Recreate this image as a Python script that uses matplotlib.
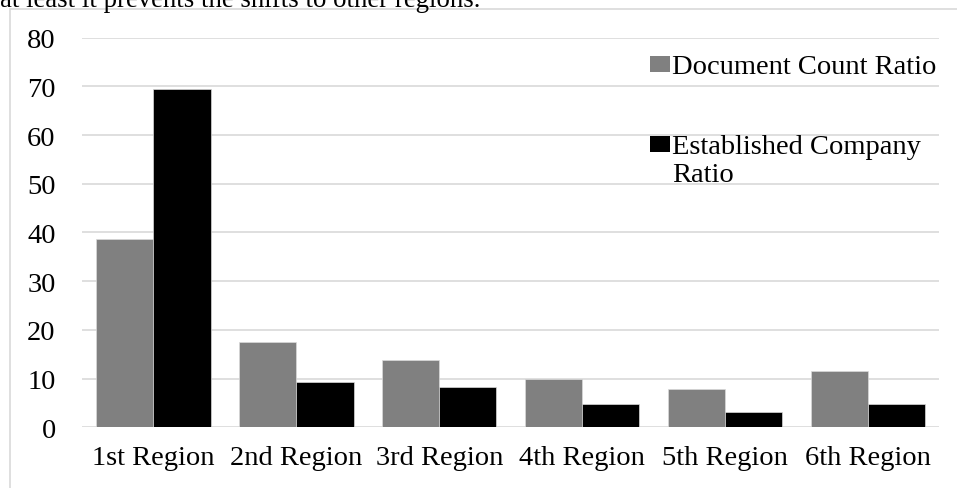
"""Document count vs established company ratio by region."""

import matplotlib

matplotlib.use("Agg")
import matplotlib.pyplot as plt  # noqa: E402
import numpy as np  # noqa: E402
from matplotlib.patches import Rectangle  # noqa: E402

regions = ["1st Region", "2nd Region", "3rd Region",
           "4th Region", "5th Region", "6th Region"]
doc_count_ratio = [38.6, 17.6, 13.9, 9.9, 7.8, 11.5]
company_ratio = [69.5, 9.3, 8.25, 4.7, 3.2, 4.8]
y_ticks = [0, 10, 20, 30, 40, 50, 60, 70, 80]

plt.rcParams["font.family"] = ["Liberation Serif", "DejaVu Serif"]
FS = 20.5

fig = plt.figure(figsize=(9.57, 4.89), dpi=100)
ax = fig.add_axes([0.0857, 0.124, 0.896, 0.797])

# surrounding paragraph line, cut off by the top edge
fig.text(0.0, 1 - 7 / 489, "at least it prevents the shifts to other regions.",
         fontsize=19.3, va="baseline", ha="left", color="black")

# chart area frame (runs off the right and bottom edges)
fig.patches.append(Rectangle((10 / 957, -0.1), 1.2, 1 - 10 / 489 + 0.1,
                             transform=fig.transFigure, fill=False,
                             edgecolor="#d9d9d9", linewidth=1.2))

x = np.arange(len(regions))
w = 0.4
ax.bar(x - w / 2, doc_count_ratio, width=w, color="#808080",
       edgecolor="#d9d9d9", linewidth=0.5, zorder=3)
ax.bar(x + w / 2, company_ratio, width=w, color="black",
       edgecolor="#d9d9d9", linewidth=0.5, zorder=3)

ax.set_xlim(-0.5, len(regions) - 0.5)
ax.set_ylim(0, 80)
ax.set_yticks(y_ticks)
ax.set_xticks(x)
ax.set_xticklabels(regions)
ax.tick_params(axis="both", length=0, labelsize=FS)
ax.tick_params(axis="y", pad=19)
ax.tick_params(axis="x", pad=13)
ax.grid(axis="y", color="#d9d9d9", linewidth=1.2, zorder=0)
for side in ax.spines.values():
    side.set_visible(False)

# legend: square marker aligned with the first line of each label
legend_items = [("#808080", "Document Count Ratio"),
                ("black", "Established Company\nRatio")]
legend_baselines = [74, 154]
line_step = 28
for (color, label), base in zip(legend_items, legend_baselines):
    fig.patches.append(Rectangle((650 / 957, 1 - (base - 1) / 489),
                                 20 / 957, 16 / 489,
                                 transform=fig.transFigure,
                                 facecolor=color, edgecolor="none"))
    for i, line in enumerate(label.split("\n")):
        fig.text(672 / 957, 1 - (base + i * line_step) / 489, line,
                 fontsize=FS, va="baseline", ha="left")

fig.savefig("out.png", dpi=100)
